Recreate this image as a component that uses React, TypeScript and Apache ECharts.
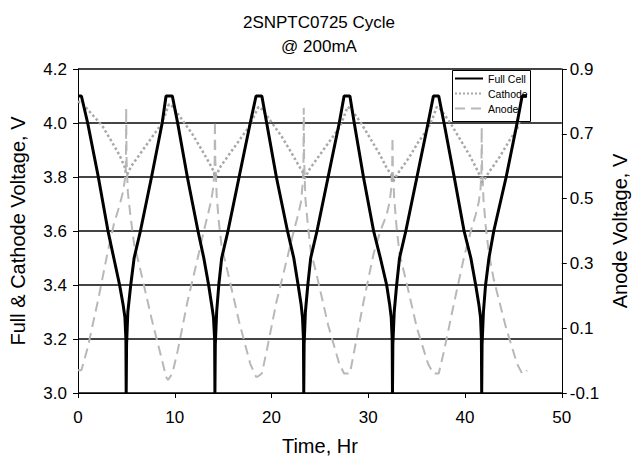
import React, { useEffect, useRef } from "react";
import * as echarts from "echarts";

const FONT = '"Liberation Sans", Arial, Helvetica, sans-serif';

const chartTitle = "2SNPTC0725 Cycle\n@ 200mA";
const xName = "Time, Hr";
const leftName = "Full & Cathode Voltage, V";
const rightName = "Anode Voltage, V";
const seriesNames = ["Full Cell", "Cathode", "Anode"];
const rightTicks = [-0.1, 0.1, 0.3, 0.5, 0.7, 0.9];

// [time (hr), voltage (V)]
const fullCell: [number, number][] = [
  [0, 4.1], [0.35, 4.1], [1.0, 4.0], [2.1, 3.8], [3.1, 3.6], [3.7, 3.5], [4.3, 3.4], [4.65, 3.33], [4.85, 3.28], [4.95, 3.2], [4.98, 3.0],
  [5.02, 3.18], [5.15, 3.3], [5.45, 3.4], [5.8, 3.5], [6.45, 3.6], [7.6, 3.8], [8.7, 4.0], [9.1, 4.1], [9.75, 4.1],
  [10.3, 4.0], [11.3, 3.8], [12.4, 3.6], [13.0, 3.5], [13.5, 3.4], [13.8, 3.33], [14.0, 3.28], [14.12, 3.2], [14.15, 3.0],
  [14.19, 3.18], [14.33, 3.3], [14.55, 3.4], [14.85, 3.5], [15.5, 3.6], [16.65, 3.8], [17.8, 4.0], [18.4, 4.1], [19.0, 4.1],
  [19.5, 4.0], [20.5, 3.8], [21.65, 3.6], [22.3, 3.5], [22.75, 3.4], [23.05, 3.33], [23.2, 3.28], [23.3, 3.2], [23.33, 3.0],
  [23.37, 3.18], [23.5, 3.3], [23.75, 3.4], [24.05, 3.5], [24.7, 3.6], [25.85, 3.8], [27.0, 4.0], [27.5, 4.1], [28.1, 4.1],
  [28.55, 4.0], [29.5, 3.8], [30.55, 3.6], [31.25, 3.5], [31.9, 3.4], [32.2, 3.33], [32.37, 3.28], [32.47, 3.2], [32.5, 3.0],
  [32.54, 3.18], [32.68, 3.3], [32.93, 3.4], [33.23, 3.5], [33.88, 3.6], [35.03, 3.8], [36.18, 4.0], [36.73, 4.1], [37.28, 4.1],
  [37.83, 4.0], [38.88, 3.8], [39.9, 3.6], [40.6, 3.5], [41.1, 3.4], [41.42, 3.33], [41.6, 3.28], [41.69, 3.2], [41.72, 3.0],
  [41.76, 3.18], [41.9, 3.3], [42.12, 3.4], [42.47, 3.5], [42.97, 3.6], [44.25, 3.8], [45.38, 4.0], [45.9, 4.1], [46.4, 4.1],
];

const cathode: [number, number][] = [
  [0, 4.08], [0.5, 4.07], [1.5, 4.03], [2.5, 3.99], [3.5, 3.93], [4.3, 3.88], [4.8, 3.84], [4.98, 3.81], [5.1, 3.81],
  [5.5, 3.84], [6.5, 3.89], [7.5, 3.94], [8.5, 3.99], [9.0, 4.03], [9.4, 4.07], [9.8, 4.06],
  [10.8, 4.01], [11.8, 3.96], [12.8, 3.9], [13.6, 3.85], [14.03, 3.82], [14.15, 3.8], [14.33, 3.81],
  [14.75, 3.84], [15.75, 3.89], [16.75, 3.94], [17.75, 3.99], [18.25, 4.03], [18.65, 4.06], [19.05, 4.05],
  [20.05, 4.0], [21.05, 3.95], [22.05, 3.89], [22.85, 3.84], [23.2, 3.82], [23.33, 3.79], [23.5, 3.8],
  [23.95, 3.83], [24.95, 3.88], [25.95, 3.93], [26.95, 3.98], [27.45, 4.02], [27.85, 4.06], [28.25, 4.05],
  [29.25, 4.0], [30.25, 3.94], [31.25, 3.88], [31.95, 3.83], [32.37, 3.81], [32.5, 3.78], [32.68, 3.79],
  [33.18, 3.82], [34.18, 3.87], [35.18, 3.93], [36.18, 3.98], [36.68, 4.02], [37.08, 4.06], [37.48, 4.05],
  [38.48, 4.0], [39.48, 3.94], [40.48, 3.88], [41.2, 3.83], [41.6, 3.8], [41.72, 3.78], [42.0, 3.79],
  [42.5, 3.82], [43.5, 3.87], [44.5, 3.93], [45.4, 3.98], [45.85, 4.03], [46.3, 4.07],
];

const anode: [number, number][] = [
  [0, -0.03], [0.35, -0.03], [1.0, 0.04], [2.1, 0.19], [3.1, 0.34], [3.7, 0.42], [4.3, 0.48], [4.65, 0.52], [4.85, 0.56], [4.95, 0.6], [4.98, 0.78],
  [5.02, 0.62], [5.15, 0.52], [5.45, 0.44], [5.8, 0.36], [6.45, 0.28], [7.6, 0.13], [8.7, 0.0], [9.1, -0.05], [9.3, -0.06], [9.75, -0.04],
  [10.3, 0.03], [11.3, 0.18], [12.4, 0.32], [13.0, 0.4], [13.5, 0.46], [13.8, 0.5], [14.0, 0.54], [14.12, 0.6], [14.15, 0.74],
  [14.19, 0.62], [14.33, 0.51], [14.55, 0.43], [14.85, 0.35], [15.5, 0.27], [16.65, 0.12], [17.8, -0.01], [18.4, -0.05], [18.55, -0.05], [19.0, -0.04],
  [19.5, 0.03], [20.5, 0.18], [21.65, 0.32], [22.3, 0.4], [22.75, 0.45], [23.05, 0.49], [23.2, 0.54], [23.3, 0.6], [23.33, 0.78],
  [23.37, 0.62], [23.5, 0.5], [23.75, 0.42], [24.05, 0.34], [24.7, 0.26], [25.85, 0.11], [27.0, -0.01], [27.5, -0.04], [27.65, -0.04], [28.1, -0.04],
  [28.55, 0.03], [29.5, 0.18], [30.55, 0.33], [31.25, 0.4], [31.9, 0.45], [32.2, 0.49], [32.37, 0.53], [32.47, 0.58], [32.5, 0.69],
  [32.54, 0.6], [32.68, 0.5], [32.93, 0.41], [33.23, 0.33], [33.88, 0.25], [35.03, 0.1], [36.18, -0.01], [36.73, -0.04], [36.88, -0.04], [37.28, -0.04],
  [37.83, 0.03], [38.88, 0.18], [39.9, 0.32], [40.6, 0.4], [41.1, 0.45], [41.42, 0.49], [41.6, 0.53], [41.69, 0.58], [41.72, 0.72],
  [41.76, 0.6], [41.9, 0.5], [42.12, 0.42], [42.47, 0.33], [42.97, 0.25], [44.25, 0.1], [45.38, -0.01], [45.9, -0.04], [46.15, -0.04], [46.4, -0.03],
];

export default function App() {
  const ref = useRef<HTMLDivElement>(null);
  useEffect(() => {
    if (!ref.current) return;
    const chart = echarts.init(ref.current, undefined, { renderer: "svg" });
    const axisLabelStyle = { color: "#000", fontSize: 17, fontFamily: FONT };
    const nameStyle = { color: "#000", fontSize: 20, fontFamily: FONT };
    chart.setOption({
      animation: false,
      backgroundColor: "#fff",
      title: {
        text: chartTitle,
        left: "center",
        top: 5,
        textStyle: { color: "#000", fontSize: 17, fontWeight: "normal", fontFamily: FONT, lineHeight: 24 },
      },
      graphic: [
        {
          type: "rect",
          z: 4.4,
          shape: { x: 452.5, y: 70.5, width: 78, height: 51 },
          style: { fill: "#fff", stroke: "#000", lineWidth: 1 },
        },
      ],
      legend: {
        data: seriesNames,
        orient: "vertical",
        left: 454,
        top: 73,
        z: 4.5,
        padding: 0,
        itemGap: 4,
        itemWidth: 28,
        itemHeight: 12,
        itemStyle: { opacity: 0 },
        textStyle: { color: "#000", fontSize: 10.5, fontFamily: FONT },
      },
      grid: { left: 77, right: 60, top: 69, bottom: 65 },
      xAxis: {
        type: "value",
        min: 0,
        max: 50,
        interval: 10,
        name: xName,
        nameLocation: "middle",
        nameGap: 43,
        nameTextStyle: nameStyle,
        axisLine: { onZero: false, lineStyle: { color: "#000", width: 1 } },
        axisTick: { show: true, length: 5, lineStyle: { color: "#000" } },
        axisLabel: { ...axisLabelStyle, margin: 16 },
        splitLine: { show: false },
      },
      yAxis: [
        {
          type: "value",
          min: 3.0,
          max: 4.2,
          interval: 0.2,
          name: leftName,
          nameLocation: "middle",
          nameRotate: 90,
          nameGap: 50,
          nameTextStyle: nameStyle,
          axisLine: { show: true, lineStyle: { color: "#000", width: 1 } },
          axisTick: { show: true, length: 5, lineStyle: { color: "#000" } },
          axisLabel: { ...axisLabelStyle, margin: 11, formatter: (v: number) => v.toFixed(1) },
          splitLine: { show: true, lineStyle: { color: "#444", width: 1.8 } },
        },
        {
          type: "value",
          min: -0.1,
          max: 0.9,
          position: "right",
          name: rightName,
          nameLocation: "middle",
          nameRotate: 90,
          nameGap: 48,
          nameTextStyle: nameStyle,
          axisLine: { show: true, lineStyle: { color: "#000", width: 1 } },
          axisTick: { show: true, length: 5, lineStyle: { color: "#000" }, customValues: rightTicks },
          axisLabel: { ...axisLabelStyle, margin: 8, customValues: rightTicks, formatter: (v: number) => v.toFixed(1) },
          splitLine: { show: false },
        },
      ],
      series: [
        {
          name: seriesNames[0],
          type: "line",
          yAxisIndex: 0,
          data: fullCell,
          showSymbol: false,
          symbol: "none",
          z: 5,
          lineStyle: { color: "#000", width: 3 },
          itemStyle: { color: "#000" },
        },
        {
          name: seriesNames[1],
          type: "line",
          yAxisIndex: 0,
          data: cathode,
          showSymbol: false,
          symbol: "none",
          z: 4,
          lineStyle: { color: "#a8a8a8", width: 2.5, type: "dotted" },
          itemStyle: { color: "#a8a8a8" },
        },
        {
          name: seriesNames[2],
          type: "line",
          yAxisIndex: 1,
          data: anode,
          showSymbol: false,
          symbol: "none",
          z: 3,
          lineStyle: { color: "#b8b8b8", width: 2, type: [10, 6] },
          itemStyle: { color: "#b8b8b8" },
        },
      ],
    });
    return () => chart.dispose();
  }, []);
  return <div ref={ref} style={{ width: 638, height: 461, position: "absolute", left: 0, top: 0 }} />;
}
